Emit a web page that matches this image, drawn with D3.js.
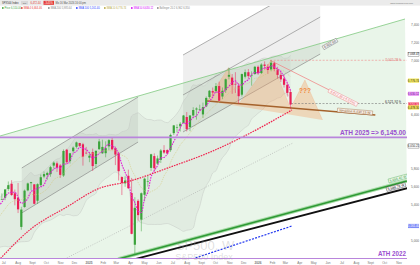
<!DOCTYPE html>
<html>
<head>
<meta charset="utf-8">
<script src="https://cdn.jsdelivr.net/npm/d3@7"></script>
<style>
body { margin: 0; background: #fff; }
svg { display: block; font-family: "Liberation Sans", Arial, sans-serif; }
</style>
</head>
<body>
<svg id="chart" width="420" height="265"></svg>
<script>
// weekly S&P 500 candles [week, open, high, low, close]
// first rows only warm up the moving averages, they sit left of the view
const candles = [
  ["2024-02-05",4958,5030,4940,5027],["2024-02-12",5026,5048,4920,5005],["2024-02-20",4990,5111,4946,5089],
  ["2024-02-26",5093,5140,5058,5137],["2024-03-04",5131,5189,5057,5124],["2024-03-11",5111,5179,5091,5117],
  ["2024-03-18",5154,5262,5146,5234],["2024-03-25",5241,5265,5203,5254],["2024-04-01",5258,5264,5146,5204],
  ["2024-04-08",5215,5224,5107,5123],["2024-04-15",5149,5151,4953,4967],["2024-04-22",4988,5114,4969,5100],
  ["2024-04-29",5115,5139,5011,5128],["2024-05-06",5142,5239,5142,5223],["2024-05-13",5233,5325,5212,5303],
  ["2024-05-20",5305,5341,5256,5305],["2024-05-27",5316,5315,5191,5278],["2024-06-03",5297,5375,5234,5347],
  ["2024-06-10",5341,5447,5324,5431],["2024-06-17",5459,5505,5431,5465],["2024-06-24",5459,5523,5451,5460],
  ["2024-07-01",5475,5570,5448,5567],["2024-07-08",5572,5656,5552,5615],["2024-07-15",5630,5670,5497,5505],
  ["2024-07-22",5525,5566,5391,5459],["2024-07-29",5476,5639,5305,5346],["2024-08-05",5151,5375,5119,5344],
  ["2024-08-12",5372,5566,5364,5554],["2024-08-19",5557,5643,5547,5634],["2024-08-26",5637,5651,5560,5648],
  ["2024-09-02",5624,5626,5402,5408],["2024-09-09",5442,5636,5406,5626],["2024-09-16",5615,5734,5596,5703],
  ["2024-09-23",5711,5767,5692,5738],["2024-09-30",5727,5765,5674,5751],["2024-10-07",5737,5829,5708,5815],
  ["2024-10-14",5832,5879,5799,5865],["2024-10-21",5857,5878,5762,5808],["2024-10-28",5834,5850,5696,5729],
  ["2024-11-04",5722,6012,5706,5995],["2024-11-11",6009,6018,5853,5870],["2024-11-18",5882,5973,5855,5969],
  ["2024-11-25",5992,6045,5973,6032],["2024-12-02",6041,6099,6023,6090],["2024-12-09",6083,6085,6040,6051],
  ["2024-12-16",6069,6085,5832,5931],["2024-12-23",5975,6040,5957,5970],["2024-12-30",5920,5981,5870,5942],
  ["2025-01-06",5982,6021,5773,5827],["2025-01-13",5850,5998,5806,5997],["2025-01-20",6014,6129,6009,6101],
  ["2025-01-27",5969,6120,5962,6040],["2025-02-03",5970,6102,5924,6026],["2025-02-10",6046,6127,6004,6115],
  ["2025-02-17",6117,6147,6003,6013],["2025-02-24",6026,6044,5838,5955],["2025-03-03",5969,5986,5667,5770],
  ["2025-03-10",5705,5712,5505,5639],["2025-03-17",5635,5715,5597,5667],["2025-03-24",5719,5787,5572,5581],
  ["2025-03-31",5527,5695,5069,5074],["2025-04-07",4953,5481,4835,5363],["2025-04-14",5441,5459,5220,5282],
  ["2025-04-21",5232,5534,5102,5525],["2025-04-28",5508,5700,5434,5687],["2025-05-05",5656,5720,5598,5660],
  ["2025-05-12",5807,5964,5773,5958],["2025-05-19",5938,5968,5768,5803],["2025-05-26",5854,5944,5845,5912],
  ["2025-06-02",5896,6017,5862,6000],["2025-06-09",6004,6059,5963,5977],["2025-06-16",6005,6014,5953,5967],
  ["2025-06-23",6004,6188,5985,6173],["2025-06-30",6193,6284,6172,6279],["2025-07-07",6259,6291,6201,6260],
  ["2025-07-14",6268,6316,6211,6297],["2025-07-21",6306,6395,6302,6389],["2025-07-28",6372,6427,6212,6238],
  ["2025-08-04",6261,6393,6215,6389],["2025-08-11",6389,6481,6360,6450],["2025-08-18",6455,6480,6343,6467],
  ["2025-08-25",6457,6509,6444,6460],["2025-09-01",6401,6532,6361,6482],["2025-09-08",6490,6600,6482,6584],
  ["2025-09-15",6594,6672,6576,6664],["2025-09-22",6660,6700,6602,6644],["2025-09-29",6660,6750,6640,6716],
  ["2025-10-06",6716,6765,6550,6553],["2025-10-13",6600,6700,6570,6664],["2025-10-20",6670,6800,6640,6792],
  ["2025-10-27",6820,6920,6790,6840],["2025-11-03",6810,6850,6630,6729],["2025-11-10",6740,6870,6640,6734],
  ["2025-11-17",6720,6750,6520,6603],["2025-11-24",6620,6855,6600,6849],["2025-12-01",6820,6900,6800,6870],
  ["2025-12-08",6870,6905,6800,6827],["2025-12-15",6830,6880,6720,6834],["2025-12-22",6850,6940,6840,6930],
  ["2025-12-29",6930,6945,6840,6858],["2026-01-05",6860,6970,6850,6955],["2026-01-12",6955,6990,6900,6940],
  ["2026-01-19",6930,6960,6850,6895],["2026-01-26",6900,7002,6880,6975],["2026-02-02",6970,6990,6880,6905],
  ["2026-02-09",6900,6930,6800,6840],["2026-02-16",6840,6880,6760,6790],["2026-02-23",6800,6840,6700,6730],
  ["2026-03-02",6730,6750,6600,6640],["2026-03-09",6650,6670,6460,6510]
];

// slow moving average (red dotted)
const slowMA = [
  ["2024-06-24",4800],["2024-08-26",5117],["2024-11-14",5372],["2025-01-25",5583],["2025-03-23",5650],
  ["2025-07-02",5828],["2025-09-20",5983],["2025-11-24",6139],["2026-03-15",6450]
];

// drawn trend lines [date, price]
const upperGreen = [["2024-06-23",6161],["2026-11-14",7461]];
const greenTrend = [["2025-03-05",4794],["2026-11-18",5661]];
const blackTrend = [["2025-03-09",4750],["2026-11-20",5583]];
const blueTrend = [["2025-07-23",4761],["2026-03-15",5161]];
const greyDotted = [["2024-11-14",4806],["2026-03-17",6083]];
const chanLeftTop = [["2024-08-09",5806],["2025-04-17",6594]];
const chanLeftBot = [["2024-08-09",5306],["2025-04-17",6094]];
const chanRightTop = [["2025-07-23",7061],["2026-05-15",7927]];
const chanRightMid = [["2025-07-23",6617],["2026-05-15",7483]];
const chanRightBot = [["2025-07-23",6206],["2026-05-15",7072]];
const neckline = [["2025-09-13",6550],["2026-09-11",6394]];
const headShoulders = [["2025-09-13",6550],["2025-10-29",6920],["2025-11-21",6520],["2026-01-29",7002],
  ["2026-03-12",6470],["2026-04-12",6783],["2026-05-20",6339]];
const redDiag = [["2026-01-27",7002],["2026-07-25",6539]];

const athLevels = [6145, 4796];
const athLabels = ["ATH 2025 => 6,145.00", "ATH 2022"];
const highLevel = 7002.28;
const lastLevel = 6521.92;

const priceTicks = [5000, 5200, 5400, 5600, 5800, 6000, 6200, 6400, 6600, 6800, 7000, 7200, 7400];
const monthNames = ["", "Feb", "Mar", "Apr", "May", "Jun", "Jul", "Aug", "Sept", "Oct", "Nov", "Dec"];
const axisTags = [7068.47, 6776.74, 6630.12, 6510.00, 6478.30, 6050.21, 5161.40];
const legendItems = ["Price 6,510.00", "SMA 4 6,664.46", "SMA 200 5,985.64", "SMA 100 5,161.40",
  "SMA 10 6,776.74", "SMA 50 6,630.12", "Bollinger 20 2 6,962 6,350"];

const W = 420, H = 265, plotR = 407, plotT = 6, plotB = 259;
const parse = d3.utcParse("%Y-%m-%d");
const fmt = d3.format(",.2f");

const x = d3.scaleUtc().domain([parse("2024-06-23"), parse("2026-11-14")]).range([0, 405]);
const y = d3.scaleLinear().domain([4800, 7000]).range([258.5, 60.5]);

const svg = d3.select("#chart");
svg.append("rect").attr("width", W).attr("height", H).attr("fill", "#fff");
svg.append("defs").append("clipPath").attr("id", "plot")
  .append("rect").attr("x", 0).attr("y", plotT).attr("width", plotR).attr("height", plotB - plotT);

const g = svg.append("g").attr("clip-path", "url(#plot)");
const pt = d => [x(parse(d[0])), y(d[1])];
const line = d3.line();

function seg(pts, stroke, width, dash)
{
    return g.append("path")
        .attr("d", line(pts.map(pt)))
        .attr("fill", "none")
        .attr("stroke", stroke)
        .attr("stroke-width", width)
        .attr("stroke-dasharray", dash || null);
}

function poly(pts, fill)
{
    return g.append("path").attr("d", line(pts.map(pt)) + "Z").attr("fill", fill);
}

// light green zone between the upper green line and the long trend line
poly([upperGreen[0], upperGreen[1], greenTrend[1], greenTrend[0], ["2024-06-23", 4650]], "#e9f5e9");

// regression channels
poly([chanLeftTop[0], chanLeftTop[1], chanLeftBot[1], chanLeftBot[0]], "rgba(120,125,120,0.13)");
poly([chanRightTop[0], chanRightTop[1], chanRightBot[1], chanRightBot[0]], "rgba(120,125,120,0.12)");

// moving averages + bollinger from the closes
const bars = candles.map(c => ({date: parse(c[0]), o: c[1], h: c[2], l: c[3], c: c[4]}));
const closes = bars.map(b => b.c);
function sma(n)
{
    return bars.map((b, i) => i < n - 1 ? null : d3.mean(closes.slice(i - n + 1, i + 1)));
}
const mid = bars.map(b => d3.utcDay.offset(b.date, 3));
const sma4 = sma(4), sma10 = sma(10), sma20 = sma(20);
const bb = bars.map((b, i) => {
    if(i < 19) return null;
    const s = d3.deviation(closes.slice(i - 19, i + 1));
    return {t: mid[i], up: sma20[i] + 2 * s, lo: sma20[i] - 2 * s};
}).filter(d => d);

g.append("path")
    .attr("d", d3.area().x(d => x(d.t)).y0(d => y(d.lo)).y1(d => y(d.up)).curve(d3.curveMonotoneX)(bb))
    .attr("fill", "rgba(140,150,140,0.09)");
["up", "lo"].forEach(k => {
    g.append("path")
        .attr("d", d3.line().x(d => x(d.t)).y(d => y(d[k])).curve(d3.curveMonotoneX)(bb))
        .attr("fill", "none").attr("stroke", "#c4c8c4").attr("stroke-width", 0.5);
});

// channel borders
[chanLeftTop, chanLeftBot, chanRightTop, chanRightMid, chanRightBot].forEach(c => seg(c, "#7d7d7d", 0.6));

// head and shoulders
poly(headShoulders, "rgba(244,165,110,0.38)");
seg(headShoulders, "rgba(240,150,90,0.5)", 0.4);
seg(neckline, "#a5622c", 1.6);

seg(upperGreen, "#80c980", 0.8);
seg(greyDotted, "#a8a8a8", 0.6, "1,1.4");
seg(redDiag, "#f08a8a", 0.8);

// horizontal levels
g.append("line").attr("x1", x(parse("2026-01-27"))).attr("x2", plotR)
    .attr("y1", y(highLevel)).attr("y2", y(highLevel))
    .attr("stroke", "#f08a8a").attr("stroke-width", 0.6).attr("stroke-dasharray", "2,1.5");
g.append("line").attr("x1", x(parse("2026-03-13"))).attr("x2", plotR)
    .attr("y1", y(lastLevel)).attr("y2", y(lastLevel))
    .attr("stroke", "#777").attr("stroke-width", 0.6).attr("stroke-dasharray", "2,1.5");

// long trend lines
seg(greenTrend, "#a7dba7", 3.6);
seg(greenTrend, "#2f9a35", 1.6);
seg(blackTrend, "#111", 1.8);
seg(blueTrend, "#1f35f0", 1.2, "2,1.3");

// candles
const up = "#3ba33b", down = "#ea1f55";
const cg = g.append("g");
cg.selectAll("line").data(bars).join("line")
    .attr("x1", (d, i) => x(mid[i])).attr("x2", (d, i) => x(mid[i]))
    .attr("y1", d => y(d.h)).attr("y2", d => y(d.l))
    .attr("stroke", d => d.c >= d.o ? up : down).attr("stroke-width", 0.5);
cg.selectAll("rect").data(bars).join("rect")
    .attr("x", (d, i) => x(mid[i]) - 1.1).attr("width", 2.2)
    .attr("y", d => y(Math.max(d.o, d.c)))
    .attr("height", d => Math.max(0.6, Math.abs(y(d.o) - y(d.c))))
    .attr("fill", d => d.c >= d.o ? up : down);

// MA lines
function maLine(vals, stroke, width, dash)
{
    const pts = vals.map((v, i) => [mid[i], v]).filter(p => p[1] != null);
    g.append("path")
        .attr("d", d3.line().x(p => x(p[0])).y(p => y(p[1])).curve(d3.curveMonotoneX)(pts))
        .attr("fill", "none").attr("stroke", stroke).attr("stroke-width", width)
        .attr("stroke-dasharray", dash);
}
maLine(sma10, "#d2c77a", 0.6, "1,1");
maLine(sma4, "#e01fd6", 1.1, "1.6,1");
g.append("path")
    .attr("d", d3.line().x(d => x(parse(d[0]))).y(d => y(d[1])).curve(d3.curveMonotoneX)(slowMA))
    .attr("fill", "none").attr("stroke", "#f0244f").attr("stroke-width", 1.2).attr("stroke-dasharray", "1.6,1");

// ATH levels
athLevels.forEach((v, i) => {
    g.append("line").attr("x1", 0).attr("x2", plotR).attr("y1", y(v)).attr("y2", y(v))
        .attr("stroke", "#b985dc").attr("stroke-width", 1.8);
    svg.append("text").attr("x", 406).attr("y", y(v) - 2.6)
        .attr("text-anchor", "end").attr("font-size", i == 0 ? 7 : 6.5).attr("font-weight", "bold")
        .attr("fill", "#9b4fd0")
        .attr("textLength", i == 0 ? 66 : 28).attr("lengthAdjust", "spacingAndGlyphs")
        .text(athLabels[i]);
});

// "???" marker
svg.append("text").attr("x", x(parse("2026-04-12"))).attr("y", y(6640))
    .attr("text-anchor", "middle").attr("font-size", 6.5).attr("font-weight", "bold")
    .attr("fill", "#f0893c").text("???");

// rotated boxed labels sitting on lines
function tag(px, py, angle, label, color, bg)
{
    const t = svg.append("g").attr("transform", `translate(${px},${py}) rotate(${angle})`);
    t.append("text").attr("font-size", 3.4).attr("fill", color)
        .attr("text-anchor", "middle").attr("y", 1.2).text(label);
    const w = label.length * 1.75 + 2;
    t.insert("rect", "text").attr("x", -w / 2).attr("y", -2).attr("width", w).attr("height", 4)
        .attr("fill", bg).attr("stroke", color).attr("stroke-width", 0.35);
}
const ang = (a, b) => {
    const p = pt(a), q = pt(b);
    return Math.atan2(q[1] - p[1], q[0] - p[0]) * 180 / Math.PI;
};
tag(343, 97.5, ang(redDiag[0], redDiag[1]), "6,612.35 (-5.57%)", "#e57373", "#fff5f5");
tag(355, 111.5, ang(neckline[0], neckline[1]), "Neckline 6,430.15 W", "#8d5a2b", "#f8efe6");
tag(330, 44, ang(chanRightBot[0], chanRightBot[1]), "6,902.60", "#555", "#f4f4f4");
tag(398, 178.5, ang(greenTrend[0], greenTrend[1]), "5,655.40 W", "#2f9a35", "#f3fbf3");
tag(396, 187, ang(blackTrend[0], blackTrend[1]), "5,588.78 W", "#111", "#fff");

// level labels at the right end of the lines
svg.append("text").attr("x", 401).attr("y", y(highLevel) + 1.1).attr("text-anchor", "end")
    .attr("font-size", 3.4).attr("fill", "#e57373").text(fmt(highLevel) + " ft");
svg.append("text").attr("x", 401).attr("y", y(lastLevel) - 0.6).attr("text-anchor", "end")
    .attr("font-size", 3.4).attr("fill", "#333").text(fmt(lastLevel) + " ft");

// watermark
svg.append("text").attr("x", 205).attr("y", 250).attr("text-anchor", "middle")
    .attr("font-size", 13).attr("fill", "rgba(150,150,150,0.3)").text("SP500, W");
svg.append("text").attr("x", 204).attr("y", 260).attr("text-anchor", "middle")
    .attr("font-size", 9).attr("fill", "rgba(150,150,150,0.3)").text("S&P500 Index");

// right price axis, plain ticks only where no tag sits
svg.append("rect").attr("x", plotR).attr("y", plotT).attr("width", W - plotR).attr("height", H - plotT).attr("fill", "#fff");
const freeTicks = priceTicks.filter(t => axisTags.every(v => Math.abs(y(t) - y(v)) > 4.6)
    && Math.abs(y(t) - y(athLevels[0])) > 5);
svg.selectAll(".ptick").data(freeTicks).join("text").attr("class", "ptick")
    .attr("x", 411).attr("y", d => y(d) + 1.1)
    .attr("font-size", 3.2).attr("fill", "#666").text(d => d3.format(",")(d));
const tagFill = ["#fff", "#f3e75a", "#ee9cf5", "#ef3b5e", "#f4e04d", "#fff", "#7e8cf7"];
const tagText = ["#222", "#333", "#6a1b9a", "#fff", "#333", "#222", "#fff"];
axisTags.forEach((v, i) => {
    svg.append("rect").attr("x", 408).attr("y", y(v) - 2.1).attr("width", 11).attr("height", 4.2)
        .attr("fill", tagFill[i]).attr("stroke", i == 0 || i == 5 ? "#333" : "none").attr("stroke-width", 0.3);
    svg.append("text").attr("x", 413.5).attr("y", y(v) + 1.1).attr("text-anchor", "middle")
        .attr("font-size", 2.9).attr("fill", tagText[i]).text(fmt(v));
});

// bottom time axis
const months = x.ticks(d3.utcMonth.every(1)).filter(d => x(d) < 404);
svg.selectAll(".mtick").data(months).join("text").attr("class", "mtick")
    .attr("x", d => x(d)).attr("y", 263.5).attr("text-anchor", "middle")
    .attr("font-size", 3.2).attr("fill", "#777")
    .attr("font-weight", d => d.getUTCMonth() == 0 ? "bold" : null)
    .text(d => d.getUTCMonth() == 0 ? d.getUTCFullYear() : monthNames[d.getUTCMonth()]);

// header
svg.append("rect").attr("width", W).attr("height", 5.6).attr("fill", "#ebebeb");
svg.append("text").attr("x", 2).attr("y", 3.8).attr("font-size", 2.6).attr("fill", "#333").text("SPX500 Index");
svg.append("rect").attr("x", 21).attr("y", 1).attr("width", 7).attr("height", 3.6).attr("fill", "#d8d8d8");
svg.append("text").attr("x", 24.5).attr("y", 3.7).attr("text-anchor", "middle").attr("font-size", 2.4).attr("fill", "#555").text("1W");
svg.append("text").attr("x", 30.5).attr("y", 3.8).attr("font-size", 2.6).attr("fill", "#e53935").text("6,472.44");
svg.append("rect").attr("x", 43.5).attr("y", 0.8).attr("width", 10.5).attr("height", 4).attr("fill", "#e53935");
svg.append("text").attr("x", 48.7).attr("y", 3.8).attr("text-anchor", "middle").attr("font-size", 2.6).attr("fill", "#fff").text("-3.45%");
svg.append("text").attr("x", 55.5).attr("y", 3.8).attr("font-size", 2.6).attr("fill", "#555").text("Mo 16 Mar 2026 16:00 pm");
svg.append("text").attr("x", 413).attr("y", 3.5).attr("text-anchor", "end").attr("font-size", 2.4).attr("fill", "#777").text("www.tradingview.com");

const legendX = [2, 21, 48, 76, 104, 131, 157];
const legendColor = ["#3ba33b", "#e53935", "#888", "#2942ff", "#b5a642", "#d500f9", "#888"];
legendItems.forEach((s, i) => {
    svg.append("rect").attr("x", legendX[i]).attr("y", 7.2).attr("width", 1.6).attr("height", 1.6).attr("fill", legendColor[i]);
    svg.append("text").attr("x", legendX[i] + 2.4).attr("y", 9.1).attr("font-size", 2.6)
        .attr("fill", legendColor[i]).text(s);
});
</script>
</body>
</html>
